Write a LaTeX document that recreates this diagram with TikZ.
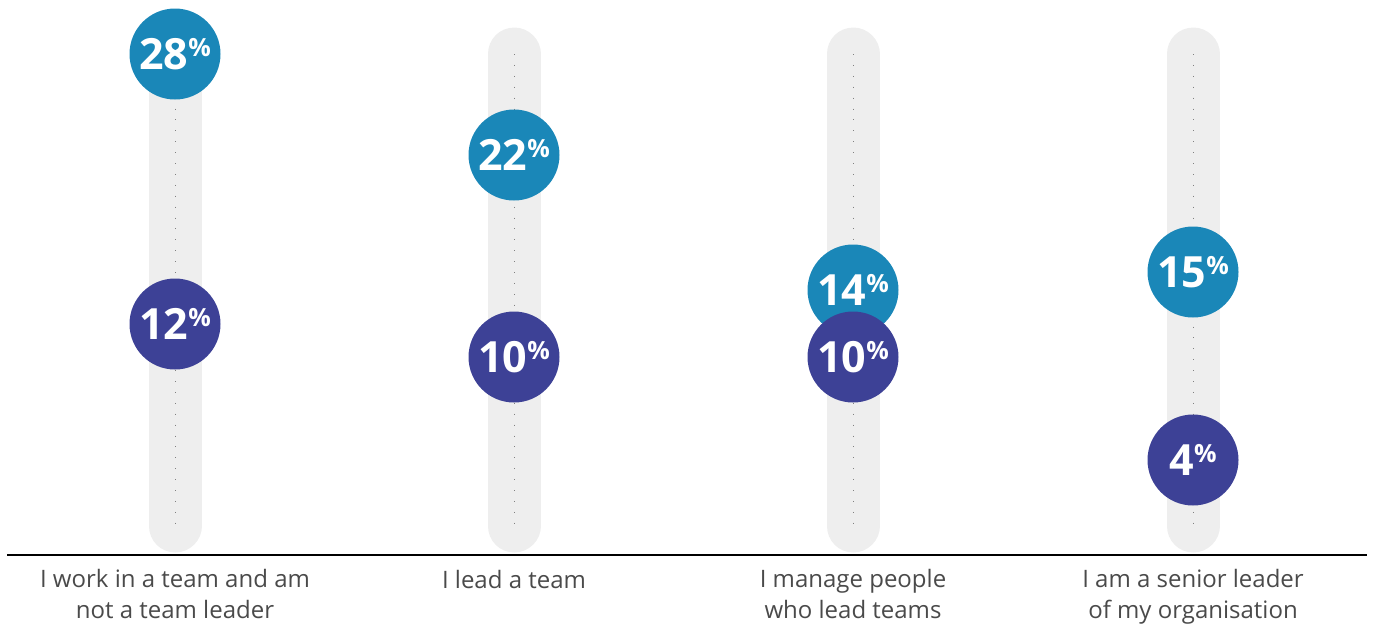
\documentclass[tikz,border=0pt]{standalone}
\usepackage{fontspec}
\setmainfont{Open Sans}
\usetikzlibrary{positioning}
\definecolor{lightblue}{HTML}{1A87B8}
\definecolor{darkblue}{HTML}{3D4196}
\definecolor{barcol}{HTML}{EEEEEE}
\definecolor{labelcol}{HTML}{4A4A4A}
\newcommand{\pct}[1]{{\fontsize{43}{43}\selectfont\bfseries #1}\raisebox{13pt}{\fontsize{25}{25}\selectfont\bfseries\%}}

\begin{document}
\begin{tikzpicture}[x=1pt,y=-1pt,
	bar/.style={line width=53pt,line cap=round,color=barcol},
	ticks/.style={color=gray,line width=0.9pt,dash pattern=on 0.9pt off 10pt},
	share/.style={circle,fill=lightblue,text=white,inner sep=0pt,minimum size=91pt},
	sharedark/.style={share,fill=darkblue},
	answer/.style={align=center,text=labelcol,anchor=base,font=\fontsize{24}{31}\selectfont},
	axis/.style={line width=1.2pt,color=black}
	]
\useasboundingbox (0,0) rectangle (1382,625);

\coordinate (t1) at (175,54);
\coordinate (b1) at (175,526);
\coordinate (t2) at (514,54);
\coordinate (b2) at (514,526);
\coordinate (t3) at (853,54);
\coordinate (b3) at (853,526);
\coordinate (t4) at (1193,54);
\coordinate (b4) at (1193,526);

\draw [bar] (t1) -- (b1);
\draw [bar] (t2) -- (b2);
\draw [bar] (t3) -- (b3);
\draw [bar] (t4) -- (b4);
\draw [ticks] (t1) -- (b1);
\draw [ticks] (t2) -- (b2);
\draw [ticks] (t3) -- (b3);
\draw [ticks] (t4) -- (b4);

\coordinate (axl) at (7,555);
\coordinate (axr) at (1367,555);
\draw [axis] (axl) -- (axr);

\node [share] (p28) at (175,54) {\pct{28}};
\node [sharedark] (p12) at (175,324) {\pct{12}};
\node [share] (p22) at (514,155) {\pct{22}};
\node [sharedark] (p10a) at (514,357) {\pct{10}};
\node [share] (p14) at (853,290) {\pct{14}};
\node [sharedark] (p10b) at (853,357) {\pct{10}};
\node [share] (p15) at (1193,272) {\pct{15}};
\node [sharedark] (p4) at (1193,460) {\pct{4}};

\node [answer] (l1) at (175,618) {I work in a team and am\\not a team leader};
\node [answer] (l2) at (514,588) {I lead a team};
\node [answer] (l3) at (853,618) {I manage people\\who lead teams};
\node [answer] (l4) at (1193,618) {I am a senior leader\\of my organisation};
\end{tikzpicture}
\end{document}
